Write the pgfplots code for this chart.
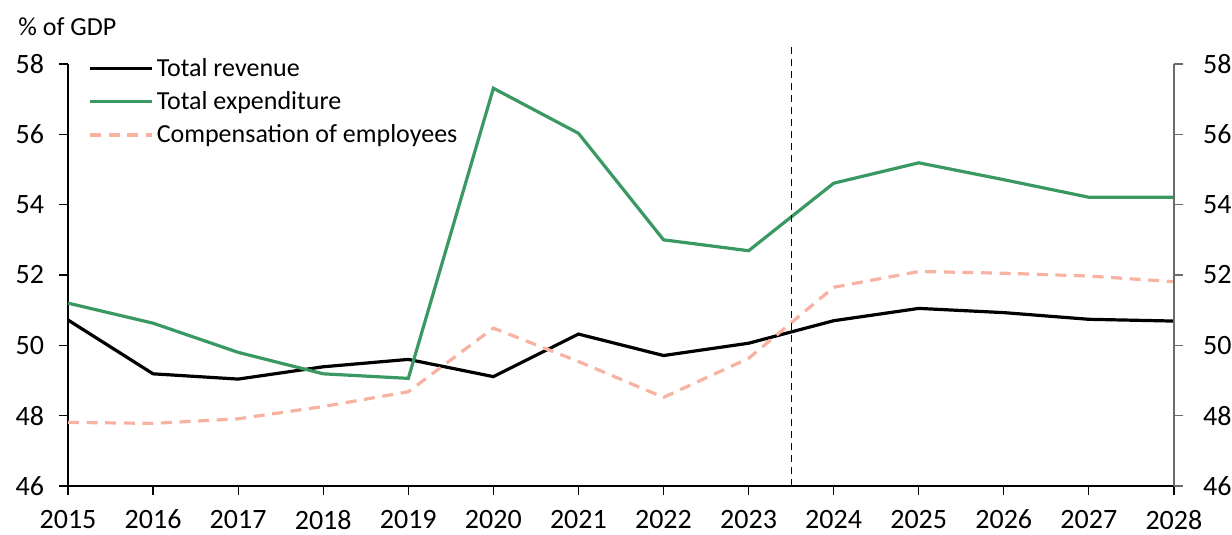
\documentclass[border=0pt]{standalone}
\usepackage{pgfplots}
\pgfplotsset{compat=1.18}
\usepackage{fontspec}
\setmainfont{Carlito}
\definecolor{expgreen}{RGB}{58,153,99}
\definecolor{comppink}{RGB}{247,178,162}
\pgfplotstableread{
year rev exp comp
2015 50.72 51.20 47.81
2016 49.19 50.63 47.78
2017 49.04 49.80 47.91
2018 49.39 49.19 48.26
2019 49.60 49.06 48.68
2020 49.11 57.31 50.49
2021 50.32 56.03 49.54
2022 49.71 53.00 48.52
2023 50.06 52.69 49.63
2024 50.70 54.61 51.65
2025 51.05 55.19 52.10
2026 50.93 54.71 52.05
2027 50.74 54.21 51.97
2028 50.69 54.21 51.81
}\datatable
\begin{document}
\begin{tikzpicture}
\pgfplotsset{
  base/.style={
    width=553pt, height=211pt, scale only axis,
    xmin=2015, xmax=2028, ymin=46, ymax=58,
    ytick={46,48,...,58},
    tick align=outside,
    major tick length=4.5pt,
    /pgf/number format/assume math mode=true,
    tick label style={font=\fontsize{14}{16}\selectfont},
  }
}
\begin{axis}[base,
  clip=false,
  axis x line*=bottom, axis y line*=left,
  xtick={2015,...,2028},
  xticklabel={\pgfmathprintnumber[1000 sep=]{\tick}},
  xticklabel style={yshift=-4pt},
  yticklabel style={xshift=-4pt},
  x axis line style={-}, y axis line style={-},
  tick style={black, line width=0.6pt},
  axis line style={line width=0.6pt},
  legend cell align=left,
  legend style={draw=none, fill=none, at={(rel axis cs:0.0128,1.031)}, anchor=north west,
    font=\fontsize{13}{15}\selectfont, row sep=3pt,
    nodes={inner sep=1.5pt}},
  legend image code/.code={\draw[#1] (0pt,0pt) -- (31pt,0pt);},
]
\addplot[black, line width=1.6pt] table[x=year, y=rev] {\datatable};
\addlegendentry{Total revenue}
\addplot[expgreen, line width=1.6pt] table[x=year, y=exp] {\datatable};
\addlegendentry{Total expenditure}
\addplot[comppink, line width=1.6pt, dash pattern=on 5.5pt off 3.8pt] table[x=year, y=comp] {\datatable};
\addlegendentry{Compensation of employees}
\addplot[black, line width=0.6pt, dash pattern=on 3.5pt off 2.5pt, forget plot] coordinates {(2023.5,46) (2023.5,58.5)};
\end{axis}
\begin{axis}[base,
  axis x line=none, axis y line*=right,
  y axis line style={-, gray!85!black, line width=0.6pt},
  tick style={gray!85!black, line width=0.6pt},
  yticklabel style={xshift=6.5pt},
]
\end{axis}
\node[anchor=base west, font=\fontsize{13}{15}\selectfont, inner sep=0pt] at (-25pt,225pt) {\% of GDP};
\pgfresetboundingbox
\useasboundingbox (-34pt,-24.5pt) rectangle (582pt,243pt);
\end{tikzpicture}
\end{document}
